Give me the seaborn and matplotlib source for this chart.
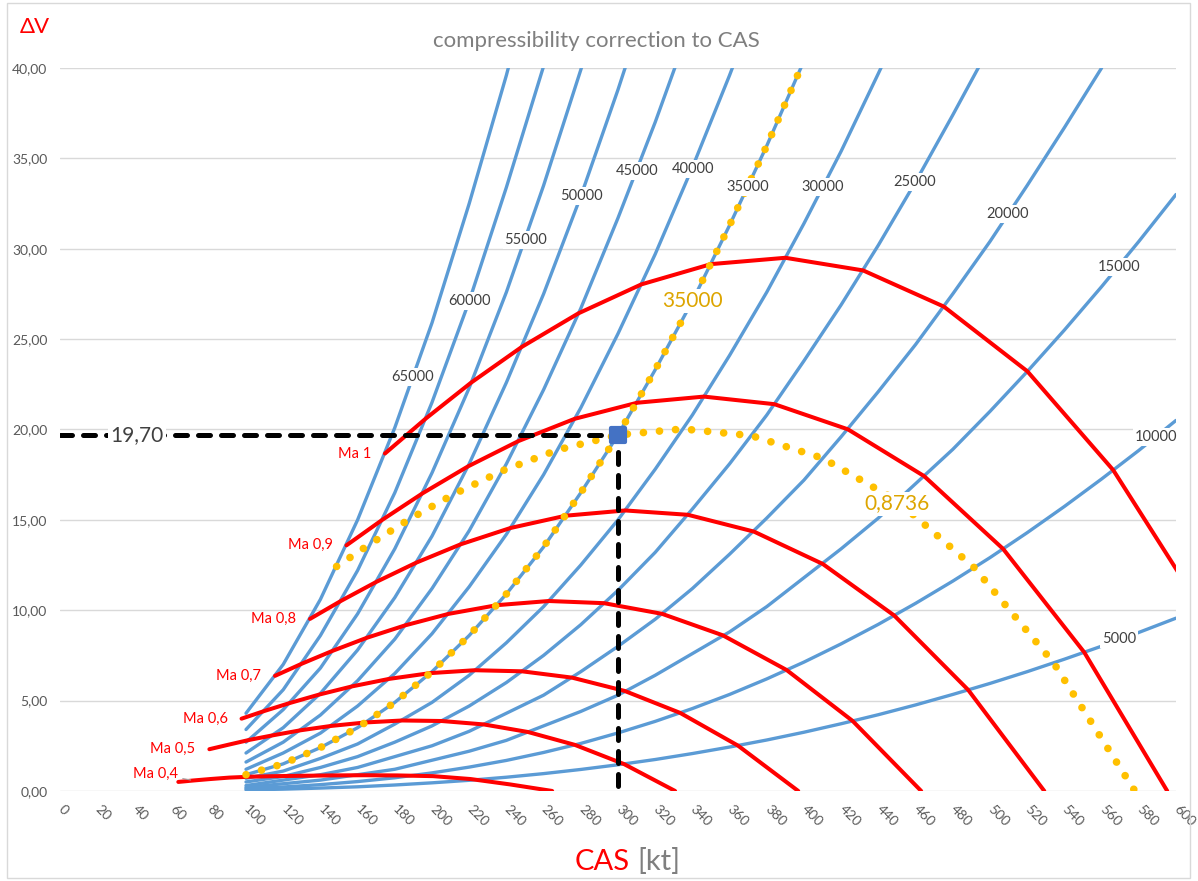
import numpy as np
import pandas as pd
import matplotlib
matplotlib.use("Agg")
import matplotlib.pyplot as plt
import seaborn as sns
from matplotlib.markers import MarkerStyle
from matplotlib.ticker import FuncFormatter, MultipleLocator
import matplotlib.patches as mpatches

# ---- pressure-altitude curves: dV (kt) against CAS (kt), CAS from 100 kt in 20 kt steps ----
cas_grid = [100, 120, 140, 160, 180, 200, 220, 240, 260, 280, 300, 320, 340,
            360, 380, 400, 420, 440, 460, 480, 500, 520, 540, 560, 580, 600]
dv_5000 = [0.06, 0.10, 0.16, 0.23, 0.33, 0.45, 0.59, 0.76, 0.96, 1.19, 1.45, 1.74, 2.07,
           2.43, 2.82, 3.25, 3.72, 4.22, 4.76, 5.34, 5.95, 6.60, 7.29, 8.01, 8.77, 9.56]
dv_10000 = [0.13, 0.22, 0.35, 0.52, 0.73, 1.00, 1.32, 1.69, 2.13, 2.63, 3.21, 3.85, 4.56,
            5.34, 6.20, 7.13, 8.14, 9.22, 10.38, 11.61, 12.91, 14.29, 15.74, 17.26, 18.84, 20.50]
dv_15000 = [0.2, 0.4, 0.6, 0.9, 1.2, 1.7, 2.2, 2.8, 3.6, 4.4, 5.3, 6.4, 7.6,
            8.8, 10.2, 11.8, 13.4, 15.1, 17.0, 18.9, 21.0, 23.2, 25.5, 27.9, 30.4, 33.0]
dv_20000 = [0.3, 0.6, 0.9, 1.3, 1.9, 2.5, 3.3, 4.3, 5.3, 6.6, 8.0, 9.5, 11.2,
            13.1, 15.1, 17.2, 19.6, 22.1, 24.7, 27.5, 30.4, 33.5, 36.7, 40.0]
dv_25000 = [0.5, 0.8, 1.3, 1.9, 2.7, 3.6, 4.7, 6.0, 7.5, 9.2, 11.1, 13.2, 15.6,
            18.1, 20.8, 23.8, 26.9, 30.2, 33.7, 37.4, 41.2]
dv_30000 = [0.7, 1.1, 1.8, 2.6, 3.7, 4.9, 6.4, 8.2, 10.2, 12.5, 15.0, 17.8, 20.8,
            24.1, 27.6, 31.4, 35.4, 39.7, 44.1]
dv_35000 = [0.9, 1.5, 2.4, 3.5, 4.9, 6.6, 8.6, 10.9, 13.5, 16.5, 19.7, 23.3, 27.1,
            31.3, 35.7, 40.4]
dv_40000 = [1.2, 2.1, 3.2, 4.7, 6.5, 8.7, 11.3, 14.2, 17.5, 21.2, 25.3, 29.7, 34.5,
            39.6, 45.0]
dv_45000 = [1.6, 2.7, 4.2, 6.1, 8.4, 11.2, 14.4, 18.1, 22.2, 26.7, 31.7, 37.0, 42.7]
dv_50000 = [2.1, 3.5, 5.4, 7.8, 10.7, 14.1, 18.1, 22.6, 27.5, 32.9, 38.8, 45.1]
dv_55000 = [2.7, 4.5, 6.8, 9.8, 13.4, 17.6, 22.3, 27.6, 33.5, 39.9, 46.7]
dv_60000 = [3.4, 5.6, 8.6, 12.2, 16.5, 21.5, 27.1, 33.4, 40.1]
dv_65000 = [4.3, 7.0, 10.6, 15.0, 20.1, 25.9, 32.5, 39.6, 47.4]

altitudes = [5000, 10000, 15000, 20000, 25000, 30000, 35000,
             40000, 45000, 50000, 55000, 60000, 65000]
altitude_dv = [dv_5000, dv_10000, dv_15000, dv_20000, dv_25000, dv_30000, dv_35000,
               dv_40000, dv_45000, dv_50000, dv_55000, dv_60000, dv_65000]

# ---- constant-Mach curves, one point per 5000 ft from 65000 ft down to sea level ----
ma04_cas = [63.6, 71.7, 80.8, 91.1, 102.7, 115.7, 130.3, 146.2, 163.2, 181.3, 200.5, 220.7, 242.1, 264.6]
ma04_dv = [0.50, 0.58, 0.66, 0.74, 0.79, 0.82, 0.84, 0.86, 0.87, 0.86, 0.82, 0.66, 0.36, 0.00]
ma05_cas = [80.3, 90.6, 102.0, 115.0, 129.5, 145.9, 164.2, 184.1, 205.3, 227.9, 251.7, 276.8, 303.2, 330.7]
ma05_dv = [2.31, 2.56, 2.83, 3.09, 3.36, 3.60, 3.79, 3.90, 3.87, 3.68, 3.26, 2.55, 1.49, 0.00]
ma06_cas = [97.6, 110.0, 124.0, 139.6, 157.2, 176.9, 199.0, 223.0, 248.4, 275.3, 303.7, 333.4, 364.5, 396.9]
ma06_dv = [4.00, 4.43, 4.88, 5.34, 5.79, 6.20, 6.52, 6.68, 6.62, 6.27, 5.53, 4.32, 2.51, 0.00]
ma07_cas = [115.6, 130.2, 146.7, 165.1, 185.8, 209.0, 234.9, 262.8, 292.5, 323.7, 356.4, 390.7, 426.2, 463.0]
ma07_dv = [6.37, 7.05, 7.76, 8.48, 9.17, 9.80, 10.28, 10.51, 10.39, 9.80, 8.61, 6.69, 3.87, 0.00]
ma08_cas = [134.4, 151.3, 170.3, 191.7, 215.5, 242.2, 271.9, 303.9, 337.6, 373.1, 410.1, 448.5, 488.3, 529.2]
ma08_dv = [9.52, 10.53, 11.58, 12.64, 13.65, 14.55, 15.23, 15.52, 15.28, 14.35, 12.56, 9.71, 5.59, 0.00]
ma09_cas = [154.0, 173.4, 195.1, 219.4, 246.5, 276.7, 310.3, 346.2, 384.1, 423.6, 464.6, 507.1, 550.7, 595.3]
ma09_dv = [13.59, 15.01, 16.48, 17.96, 19.36, 20.59, 21.48, 21.82, 21.40, 20.01, 17.42, 13.39, 7.67, 0.00]
ma10_cas = [174.7, 196.6, 221.0, 248.3, 278.8, 312.6, 350.0, 390.0, 431.8, 475.2, 520.1, 566.3, 613.5, 661.5]
ma10_dv = [18.67, 20.60, 22.59, 24.57, 26.43, 28.03, 29.15, 29.50, 28.80, 26.80, 23.22, 17.75, 10.11, 0.00]

mach_names = ["Ma 0,4", "Ma 0,5", "Ma 0,6", "Ma 0,7", "Ma 0,8", "Ma 0,9", "Ma 1"]
mach_cas = [ma04_cas, ma05_cas, ma06_cas, ma07_cas, ma08_cas, ma09_cas, ma10_cas]
mach_dv = [ma04_dv, ma05_dv, ma06_dv, ma07_dv, ma08_dv, ma09_dv, ma10_dv]

# ---- worked example: 35000 ft, M 0.8736 -> CAS 300 kt, dV 19.70 kt ----
ex_altitude = 35000
ex_mach = 0.8736
ex_cas = 300
ex_dv = 19.70
ex_mach_cas = [148.7, 167.5, 188.4, 211.9, 238.2, 267.5, 300.0, 334.9, 371.7, 410.1, 450.2, 491.6, 534.2, 577.9]
ex_mach_dv = [12.42, 13.72, 15.07, 16.43, 17.73, 18.87, 19.70, 20.03, 19.66, 18.41, 16.05, 12.35, 7.09, 0.00]

# long-form tables for seaborn
alt_df = pd.concat([pd.DataFrame({"cas": cas_grid[:len(dv)], "dv": dv, "alt": str(h)})
                    for h, dv in zip(altitudes, altitude_dv)], ignore_index=True)
mach_df = pd.concat([pd.DataFrame({"cas": c, "dv": d, "mach": n})
                     for n, c, d in zip(mach_names, mach_cas, mach_dv)], ignore_index=True)

BLUE = '#5B9BD5'
RED = '#FF0000'
GOLD = '#FFC000'
GOLD_TXT = '#DDA500'
GREY_TXT = '#595959'

sns.set_theme(style="white")
plt.rcParams['font.family'] = ['Lato', 'DejaVu Sans']

fig = plt.figure(figsize=(11.98, 8.81), dpi=100)
ax = fig.add_axes([0.0501, 0.1022, 0.9315, 0.8206])

sns.lineplot(data=alt_df, x="cas", y="dv", hue="alt", palette=[BLUE] * len(altitudes),
             ax=ax, lw=2.4, sort=False, estimator=None, legend=False, zorder=2)
sns.lineplot(data=mach_df, x="cas", y="dv", hue="mach", palette=[RED] * len(mach_names),
             ax=ax, lw=2.9, sort=False, estimator=None, legend=False, zorder=3)

# highlighted altitude and Mach curves (gold dots)
ex_alt_dv = altitude_dv[altitudes.index(ex_altitude)]
for xx, yy in [(cas_grid[:len(ex_alt_dv)], ex_alt_dv), (ex_mach_cas, ex_mach_dv)]:
    sns.lineplot(x=xx, y=yy, ax=ax, color=GOLD, lw=5.5, sort=False, estimator=None, zorder=4,
                 linestyle=(0, (0.01, 2.1)), dash_capstyle='round')

# reading lines to the axes and the reading point
ax.plot([0, ex_cas, ex_cas], [ex_dv, ex_dv, 0], color='black', lw=3.6,
        linestyle=(0, (2.4, 2.2)), dash_capstyle='round', zorder=5)
ax.plot([ex_cas], [ex_dv], linestyle='none', marker=MarkerStyle('s', joinstyle='round'), ms=9.5,
        mfc='#4472C4', mec='#4472C4', mew=3, zorder=6)

box = dict(facecolor='white', edgecolor='none', pad=1.5)
alt_label_pos = {65000: (189.8, 22.9), 60000: (220.4, 27.1), 55000: (250.5, 30.5),
                 50000: (280.1, 32.9), 45000: (310.2, 34.3), 40000: (340.3, 34.4),
                 35000: (369.9, 33.4), 30000: (410.2, 33.4), 25000: (459.7, 33.7),
                 20000: (509.7, 31.9), 15000: (569.4, 29.0), 10000: (589.2, 19.6),
                 5000: (569.4, 8.4)}
for h, (lx, ly) in alt_label_pos.items():
    ax.text(lx, ly, str(h), ha='center', va='center', fontsize=10.5, color='#404040',
            bbox=box, zorder=8, clip_on=False)

for name, c, d in zip(mach_names, mach_cas, mach_dv):
    if name == "Ma 0,4":
        ax.annotate(name, xy=(c[1], d[1]), xytext=(-11, 5), textcoords='offset points',
                    ha='right', va='center', fontsize=10.5, color=RED, zorder=8,
                    arrowprops=dict(arrowstyle='-', color='#A6A6A6', lw=0.8, shrinkA=1, shrinkB=2))
    else:
        ax.annotate(name, xy=(c[0], d[0]), xytext=(-10, 0), textcoords='offset points',
                    ha='right', va='center', fontsize=10.5, color=RED, zorder=8)

ax.text(339.8, 27.1, f"{ex_altitude}", ha='center', va='center', fontsize=15, color=GOLD_TXT,
        bbox=box, zorder=8)
ax.text(450, 15.9, f"{ex_mach:.4f}".replace('.', ','), ha='center', va='center', fontsize=15,
        color=GOLD_TXT, bbox=box, zorder=8)
ax.text(41.4, ex_dv, f"{ex_dv:.2f}".replace('.', ','), ha='center', va='center', fontsize=15,
        color='#404040', bbox=box, zorder=8)

ax.set_xlim(0, 600)
ax.set_ylim(0, 40)
ax.xaxis.set_major_locator(MultipleLocator(20))
ax.yaxis.set_major_locator(MultipleLocator(5))
ax.yaxis.set_major_formatter(FuncFormatter(lambda v, p: f"{v:.2f}".replace('.', ',')))
ax.tick_params(axis='both', length=0, labelsize=10, labelcolor=GREY_TXT)
ax.tick_params(axis='y', pad=9)
ax.tick_params(axis='x', pad=12)
for t in ax.get_xticklabels():
    t.set_rotation(-45)
    t.set_ha('left')
    t.set_va('center')
    t.set_rotation_mode('anchor')
ax.set_xlabel("")
ax.set_ylabel("")
ax.grid(axis='y', color='#D9D9D9', lw=1)
ax.grid(axis='x', visible=False)
for s in ax.spines.values():
    s.set_visible(False)

fig.text(596/1198, 1-41/881, "compressibility correction to CAS", ha='center', va='center',
         fontsize=16, color='#7F7F7F')
fig.text(35/1198, 1-27/881, "ΔV", ha='center', va='center', fontsize=16, color=RED)
fig.text(630/1198, 11/881, "CAS", ha='right', va='baseline', fontsize=21, color=RED)
fig.text(637/1198, 11/881, "[kt]", ha='left', va='baseline', fontsize=21, color='#7F7F7F')
fig.patches.append(mpatches.Rectangle((7/1198, 3/881), 1183/1198, 875/881, transform=fig.transFigure,
                                      fill=False, edgecolor='#D9D9D9', lw=1))
fig.savefig("out.png")
